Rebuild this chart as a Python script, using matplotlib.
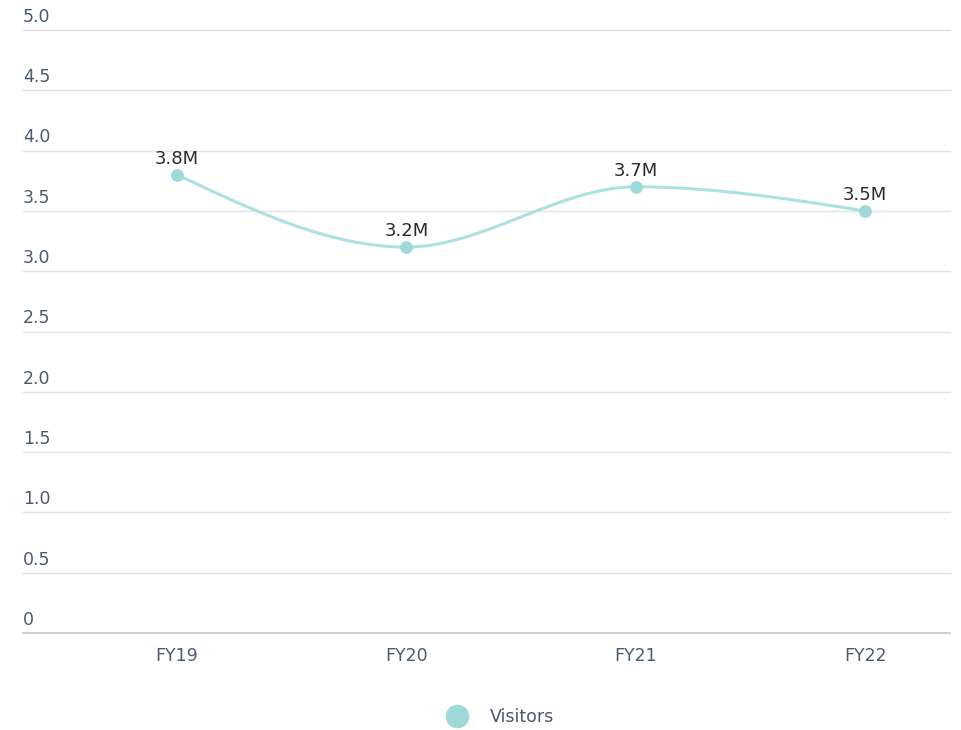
import numpy as np
import matplotlib
matplotlib.use("Agg")
import matplotlib.pyplot as plt
from matplotlib.path import Path
from matplotlib.patches import PathPatch
from matplotlib.lines import Line2D
import matplotlib.transforms as mtransforms

# data
categories = ["FY19", "FY20", "FY21", "FY22"]
visitors = [3.8, 3.2, 3.7, 3.5]
point_labels = ["3.8M", "3.2M", "3.7M", "3.5M"]
y_ticks = [0, 0.5, 1.0, 1.5, 2.0, 2.5, 3.0, 3.5, 4.0, 4.5, 5.0]
y_tick_labels = ["0", "0.5", "1.0", "1.5", "2.0", "2.5", "3.0", "3.5", "4.0", "4.5", "5.0"]

LINE = "#ade0e0"
DOT = "#9fd9d9"
TICK = "#4a5b72"
GRID = "#e3e3e3"


def monotone_path(xs, ys):
    """Bezier path like d3.curveMonotoneX through the points."""
    xs = np.asarray(xs, float)
    ys = np.asarray(ys, float)
    n = len(xs)
    h = np.diff(xs)
    s = np.diff(ys) / h
    t = np.zeros(n)
    for i in range(1, n - 1):
        p = (s[i - 1] * h[i] + s[i] * h[i - 1]) / (h[i - 1] + h[i])
        t[i] = (np.sign(s[i - 1]) + np.sign(s[i])) * min(abs(s[i - 1]), abs(s[i]), 0.5 * abs(p))
    t[0] = (3 * s[0] - t[1]) / 2
    t[-1] = (3 * s[-1] - t[-2]) / 2
    verts = [(xs[0], ys[0])]
    codes = [Path.MOVETO]
    for i in range(n - 1):
        dx = (xs[i + 1] - xs[i]) / 3
        verts += [(xs[i] + dx, ys[i] + t[i] * dx),
                  (xs[i + 1] - dx, ys[i + 1] - t[i + 1] * dx),
                  (xs[i + 1], ys[i + 1])]
        codes += [Path.CURVE4] * 3
    return Path(verts, codes)


fig = plt.figure(figsize=(9.62, 7.3), dpi=100)
ax = fig.add_axes([23 / 962, 97 / 730, 927 / 962, 603 / 730])

x = np.arange(len(categories))
ax.set_xlim(-0.672, 3.37)
ax.set_ylim(0, 5.0)

for yv in y_ticks[1:]:
    ax.axhline(yv, color=GRID, lw=1, zorder=0, clip_on=False)
ax.axhline(0, color="#c6c6c6", lw=1.2, zorder=0, clip_on=False)

ax.add_patch(PathPatch(monotone_path(x, visitors), fill=False, edgecolor=LINE, lw=2.2, zorder=2))
ax.scatter(x, visitors, s=85, color=DOT, zorder=3, linewidths=0)

for xi, yi, lab in zip(x, visitors, point_labels):
    ax.annotate(lab, (xi, yi), xytext=(0, 5), textcoords="offset points",
                ha="center", va="bottom", fontsize=13, color="#2b2b2b")

trans = mtransforms.blended_transform_factory(ax.transAxes, ax.transData)
for yv, lab in zip(y_ticks, y_tick_labels):
    ax.annotate(lab, (0, yv), xycoords=trans, xytext=(0, 3), textcoords="offset points",
                ha="left", va="bottom", fontsize=12.5, color=TICK)

ax.set_xticks(x)
ax.set_xticklabels(categories, fontsize=12.5, color=TICK)
ax.tick_params(axis="x", length=0, pad=10)
ax.set_yticks([])
for sp in ax.spines.values():
    sp.set_visible(False)

handle = Line2D([], [], marker="o", linestyle="none", markersize=17,
                markerfacecolor=DOT, markeredgewidth=0)
fig.legend([handle], ["Visitors"], loc="center", bbox_to_anchor=(497 / 962, 1 - 717 / 730),
           frameon=False, fontsize=12.5, labelcolor=TICK, handletextpad=0.9)

fig.savefig("out.png", dpi=100, facecolor="white")
